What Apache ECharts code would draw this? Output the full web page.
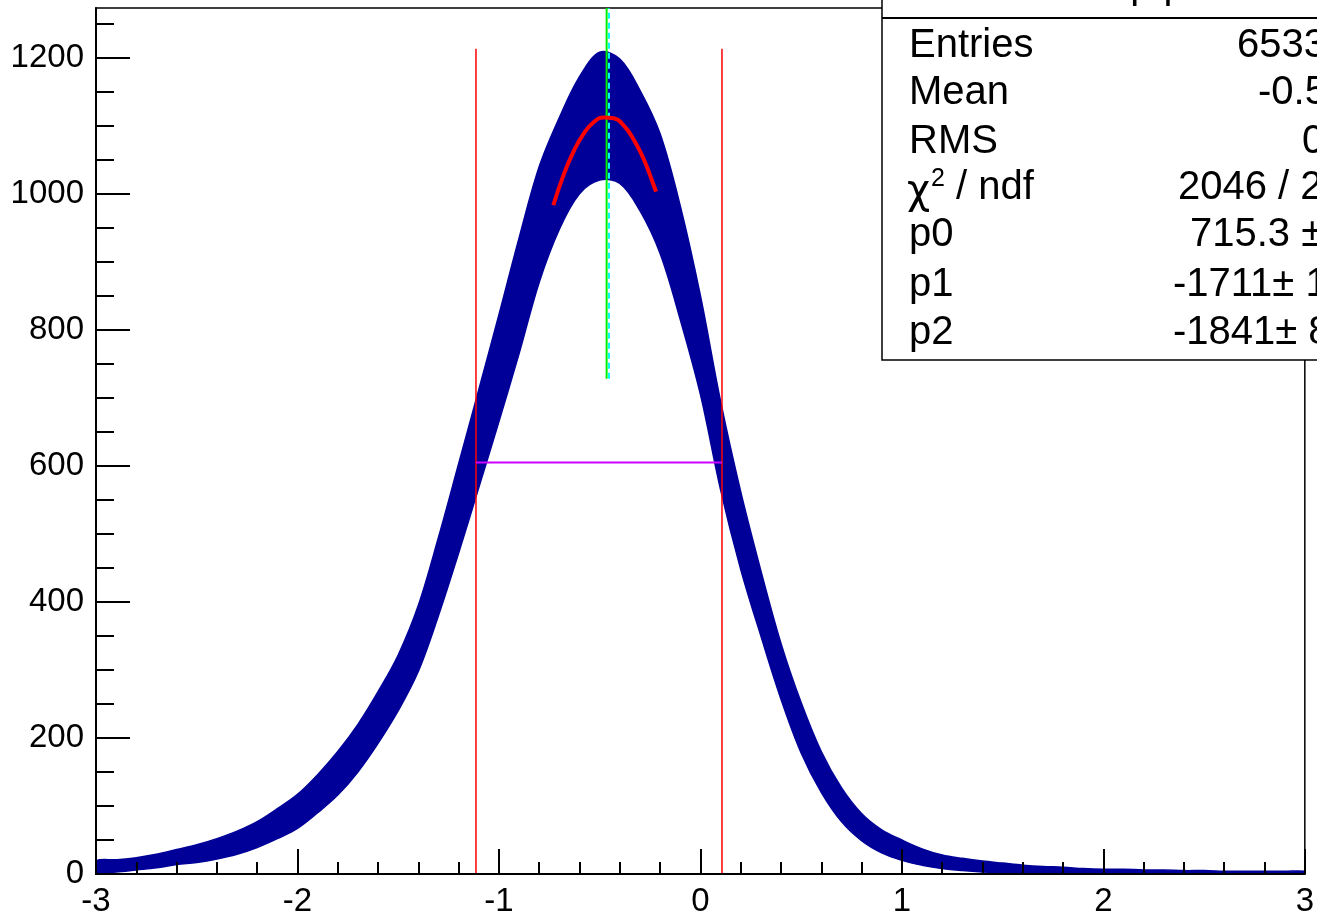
<!DOCTYPE html>
<html>
<head>
<meta charset="utf-8">
<script src="https://cdn.jsdelivr.net/npm/echarts@6/dist/echarts.min.js"></script>
<style>
html,body{margin:0;padding:0;background:#fff;}
#chart{width:1317px;height:918px;}
</style>
</head>
<body>
<div id="chart"></div>
<script>
// Histogram band: lower / upper envelope of the noisy bins
const binX = [-3.0,-2.9,-2.8,-2.7,-2.6,-2.5,-2.4,-2.3,-2.2,-2.1,-2.0,-1.9,-1.8,-1.7,-1.6,-1.5,-1.4,-1.3,-1.2,-1.1,-1.0,-0.9,-0.8,-0.7,-0.6,-0.5,-0.4,-0.3,-0.2,-0.1,0.0,0.1,0.2,0.3,0.4,0.5,0.6,0.7,0.8,0.9,1.0,1.1,1.2,1.3,1.4,1.5,1.6,1.7,1.8,1.9,2.0,2.1,2.2,2.3,2.4,2.5,2.6,2.7,2.8,2.9,3.0];
const lowerEnv = [1,3,6,9,14,17,22,29,39,52,67,90,116,150,192,240,298,380,472,568,665,765,870,948,1000,1020,1015,975,912,815,705,565,448,350,257,178,120,77,49,31,20,13,8,5,3,2,1,1,0,0,0,0,0,0,0,0,0,0,0,0,0];
const upperEnv = [19,21,24,29,36,43,52,63,77,96,117,146,180,220,268,322,395,495,603,712,822,935,1040,1112,1172,1208,1198,1152,1088,982,850,695,562,446,339,252,180,127,89,65,50,37,28,23,19,16,13,11,10,8,7,7,6,6,5,5,4,4,4,4,4];

// Fit curve (pol2) points
const fitX = [-0.73,-0.68,-0.63,-0.58,-0.53,-0.48,-0.43,-0.38,-0.33,-0.28,-0.23,-0.22];
const fitY = [983,1027,1062,1088,1105,1112,1111,1100,1079,1050,1011,1003];

// Marker lines
const fwhmLeft = -1.114, fwhmRight = 0.107, halfMax = 605, redTop = 1213;
const peakX = -0.4655, meanMarkX = -0.454, markBottom = 728, yTop = 1273;

// Axis ticks
const yMajor = [0,200,400,600,800,1000,1200];
const yMinor = [50,100,150,250,300,350,450,500,550,650,700,750,850,900,950,1050,1100,1150,1250];

// Stats box text
const statLabels = ['Entries','Mean','RMS','','p0','p1','p2'];
const statValues = ['6533474','-0.5014','0.5186','2046 / 2397','715.3 \u00b1 3.4','-1711\u00b1 10.2','-1841\u00b1 8.6'];

const FONT = '"Liberation Sans", Arial, Helvetica, sans-serif';
const chart = echarts.init(document.getElementById('chart'));

const lineSeries = (pts, color, width, type, z) => ({
  type: 'line', data: pts, symbol: 'none', silent: true, animation: false,
  lineStyle: {color: color, width: width, type: type || 'solid'}, z: z || 3
});

const rowMid = [46, 93, 142, 188, 235, 285, 333];
const valX = [1237, 1258, 1302, 1178, 1190, 1173, 1173];
const graphics = [
  {type:'rect', z:100, shape:{x:882, y:-40, width:600, height:400}, style:{fill:'#fff', stroke:'#000', lineWidth:1.5}},
  {type:'line', z:101, shape:{x1:882, y1:18, x2:1317, y2:18}, style:{stroke:'#000', lineWidth:2}},
  {type:'text', z:101, x:1108, y:-13, style:{text:'dp/p', font:'40px ' + FONT, fill:'#000', verticalAlign:'middle'}}
];
statLabels.forEach((t, i) => {
  if (t) graphics.push({type:'text', z:101, x:909, y:rowMid[i], style:{text:t, font:'40px ' + FONT, fill:'#000', verticalAlign:'middle'}});
  graphics.push({type:'text', z:101, x:valX[i], y:rowMid[i], style:{text:statValues[i], font:'40px ' + FONT, fill:'#000', verticalAlign:'middle'}});
});
// chi^2 / ndf label
graphics.push({type:'text', z:101, x:907, y:rowMid[3] + 5, style:{text:'\u03c7', font:'40px "DejaVu Sans", sans-serif', fill:'#000', verticalAlign:'middle'}});
graphics.push({type:'text', z:101, x:931, y:rowMid[3] - 9, style:{text:'2', font:'25px ' + FONT, fill:'#000', verticalAlign:'middle'}});
graphics.push({type:'text', z:101, x:956, y:rowMid[3], style:{text:'/ ndf', font:'40px ' + FONT, fill:'#000', verticalAlign:'middle'}});

const option = {
  animation: false,
  backgroundColor: '#fff',
  grid: {left: 96, right: 12, top: 8, bottom: 42, show: true, borderColor: '#000', borderWidth: 1.5, containLabel: false},
  xAxis: {
    type: 'value', min: -3, max: 3, interval: 1, z: 10,
    axisLine: {show: true, onZero: false, lineStyle: {color: '#000', width: 2}},
    axisTick: {show: true, inside: true, length: 25, lineStyle: {color: '#000', width: 2}},
    minorTick: {show: true, splitNumber: 5, length: 12, lineStyle: {color: '#000', width: 2}},
    axisLabel: {color: '#000', fontSize: 33, fontFamily: FONT, margin: 11},
    splitLine: {show: false}, minorSplitLine: {show: false}
  },
  yAxis: [
    {
      type: 'value', min: 0, max: yTop, z: 10,
      axisLine: {show: true, onZero: false, lineStyle: {color: '#000', width: 2}},
      axisTick: {show: true, inside: true, length: 34, customValues: yMajor, lineStyle: {color: '#000', width: 2}},
      axisLabel: {color: '#000', fontSize: 33, fontFamily: FONT, margin: 12, customValues: yMajor, formatter: v => String(v)},
      splitLine: {show: false}
    },
    {
      type: 'value', min: 0, max: yTop, z: 10, position: 'left',
      axisLine: {show: false, onZero: false},
      axisTick: {show: true, inside: true, length: 18, customValues: yMinor, lineStyle: {color: '#000', width: 2}},
      axisLabel: {show: false},
      splitLine: {show: false}
    }
  ],
  series: [
    {
      type: 'custom', coordinateSystem: 'cartesian2d', data: [[binX[0], 0]], silent: true, z: 2, clip: true,
      renderItem: function (params, api) {
        const pts = [];
        for (let i = 0; i < binX.length; i++) pts.push(api.coord([binX[i], upperEnv[i]]));
        for (let i = binX.length - 1; i >= 0; i--) pts.push(api.coord([binX[i], lowerEnv[i]]));
        return {type: 'polygon', shape: {points: pts, smooth: 0.35}, style: {fill: '#000099', stroke: '#000099', lineWidth: 1.5}};
      }
    },
    lineSeries([[fwhmLeft, 0], [fwhmLeft, redTop]], '#ff0000', 1.5),
    lineSeries([[fwhmRight, 0], [fwhmRight, redTop]], '#ff0000', 1.5),
    lineSeries([[fwhmLeft, halfMax], [fwhmRight, halfMax]], '#cc00ff', 2),
    lineSeries([[peakX, markBottom], [peakX, yTop]], '#00ee00', 2),
    lineSeries([[meanMarkX, markBottom], [meanMarkX, yTop]], '#00ffff', 2, [6, 4]),
    Object.assign(lineSeries(fitX.map((x, i) => [x, fitY[i]]), '#ff0000', 4, 'solid', 4), {smooth: true})
  ],
  graphic: graphics
};
chart.setOption(option);
</script>
</body>
</html>
